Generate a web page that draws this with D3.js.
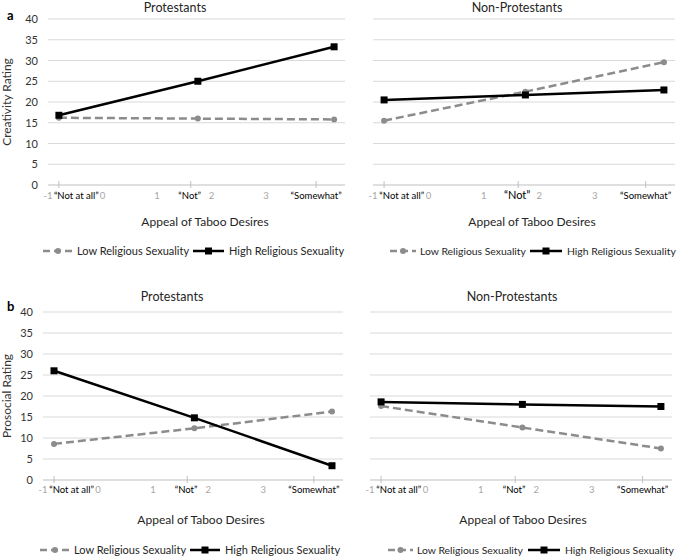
<!DOCTYPE html>
<html>
<head>
<meta charset="utf-8">
<script src="https://cdn.jsdelivr.net/npm/d3@7"></script>
<style>
  body { margin: 0; background: #fff; }
  text { font-family: Lato, "Open Sans", sans-serif; }
</style>
</head>
<body>
<div id="chart"></div>
<script>
// x positions (in axis units) of the three response levels
var levels = ["Not at all", "Not", "Somewhat"];
var pointX = [-0.8, 1.75, 4.25];
var tickX = [-0.8, 1.62, 3.92];
var wordLabels = ["\u201cNot at all\u201d", "\u201cNot\u201d", "\u201cSomewhat\u201d"];
var wordX = [-0.48, 1.6, 3.92];
var numTicks = [-1, 0, 1, 2, 3];
var yTicks = [0, 5, 10, 15, 20, 25, 30, 35, 40];

var panelTitles = ["Protestants", "Non-Protestants"];
var yTitles = ["Creativity Rating", "Prosocial Rating"];
var rowLetters = ["a", "b"];
var seriesNames = ["Low Religious Sexuality", "High Religious Sexuality"];

// values
var creatProtLow = [16.2, 16.0, 15.8];
var creatProtHigh = [16.8, 25.0, 33.3];
var creatNonLow = [15.5, 22.5, 29.6];
var creatNonHigh = [20.5, 21.7, 22.9];
var prosProtLow = [8.6, 12.3, 16.3];
var prosProtHigh = [26.0, 14.8, 3.4];
var prosNonLow = [17.6, 12.5, 7.5];
var prosNonHigh = [18.6, 18.0, 17.5];

var svg = d3.select("#chart")
  .append("svg")
  .attr("width", 685)
  .attr("height", 557);

// layout of the four panels
var panels = [
  { row: 0, col: 0, x0: 48, x1: 345, y0: 185, y1: 19, low: creatProtLow, high: creatProtHigh,
    titleX: 175, xTitleX: 205, legX: 43, legGap: [34, 150, 186], legFont: 11 },
  { row: 0, col: 1, x0: 373, x1: 675, y0: 185, y1: 19, low: creatNonLow, high: creatNonHigh,
    titleX: 517, xTitleX: 532, legX: 390, legGap: [30, 140, 177], legFont: 10.4 },
  { row: 1, col: 0, x0: 43, x1: 343, y0: 480, y1: 312, low: prosProtLow, high: prosProtHigh,
    titleX: 172, xTitleX: 201, legX: 40, legGap: [34, 150, 185], legFont: 11 },
  { row: 1, col: 1, x0: 370, x1: 672, y0: 480, y1: 312, low: prosNonLow, high: prosNonHigh,
    titleX: 512, xTitleX: 523, legX: 388, legGap: [29, 140, 177], legFont: 10.4 }
];
var rowText = [
  { title: 8, labels: 199, xTitle: 222, legend: 251, letter: 20 },
  { title: 297, labels: 493, xTitle: 520, legend: 550, letter: 311 }
];

var lowColor = "#8c8c8c", highColor = "#000";

panels.forEach(function (p) {
  var r = rowText[p.row];
  var x = d3.scaleLinear().domain([-1, 4.45]).range([p.x0, p.x1]);
  var y = d3.scaleLinear().domain([0, 40]).range([p.y0, p.y1]);
  var g = svg.append("g");

  // gridlines
  g.selectAll(".grid")
    .data(yTicks.filter(function (d) { return d > 0; }))
    .enter().append("line")
    .attr("x1", p.x0).attr("x2", p.x1)
    .attr("y1", function (d) { return y(d); })
    .attr("y2", function (d) { return y(d); })
    .attr("stroke", "#d9d9d9").attr("stroke-width", 1);

  // x axis line + ticks
  g.append("line")
    .attr("x1", p.x0).attr("x2", p.x1)
    .attr("y1", y(0)).attr("y2", y(0))
    .attr("stroke", "#bfbfbf");
  g.selectAll(".tk")
    .data(tickX)
    .enter().append("line")
    .attr("x1", function (d) { return x(d); })
    .attr("x2", function (d) { return x(d); })
    .attr("y1", y(0) - 4).attr("y2", y(0) + 3)
    .attr("stroke", "#bfbfbf");

  // y tick labels, left panels only
  if (p.col === 0) {
    g.selectAll(".yl")
      .data(yTicks)
      .enter().append("text")
      .attr("x", p.x0 - 10)
      .attr("y", function (d) { return y(d) + 4; })
      .attr("text-anchor", "end")
      .attr("font-size", 11)
      .attr("fill", "#333")
      .text(function (d) { return d; });

    g.append("text")
      .attr("transform", "translate(11," + ((p.y0 + p.y1) / 2) + ") rotate(-90)")
      .attr("text-anchor", "middle")
      .attr("font-size", 12)
      .attr("fill", "#333")
      .text(yTitles[p.row]);

    g.append("text")
      .attr("x", 7).attr("y", r.letter)
      .attr("font-family", "'Liberation Serif', serif")
      .attr("font-weight", "bold")
      .attr("font-size", 13)
      .text(rowLetters[p.row]);
  }

  // grey numeric labels and overlaid word labels
  g.selectAll(".nl")
    .data(numTicks)
    .enter().append("text")
    .attr("x", function (d) { return x(d); })
    .attr("y", r.labels)
    .attr("text-anchor", "middle")
    .attr("font-size", 9.5)
    .attr("fill", "#a6a6a6")
    .text(function (d) { return d; });
  g.selectAll(".wl")
    .data(wordLabels)
    .enter().append("text")
    .attr("x", function (d, i) { return x(wordX[i]); })
    .attr("y", r.labels)
    .attr("text-anchor", "middle")
    .attr("font-size", function (d, i) { return (p.row === 0 && p.col === 1 && i === 1) ? 11 : 9.5; })
    .attr("fill", "#000")
    .text(function (d) { return d; });

  // titles
  g.append("text")
    .attr("x", p.titleX).attr("y", r.title + 4)
    .attr("text-anchor", "middle")
    .attr("font-size", 12.5)
    .attr("fill", "#262626")
    .text(panelTitles[p.col]);
  g.append("text")
    .attr("x", p.xTitleX).attr("y", r.xTitle + 4)
    .attr("text-anchor", "middle")
    .attr("font-size", 12)
    .attr("fill", "#262626")
    .text("Appeal of Taboo Desires");

  // series
  var line = d3.line()
    .x(function (d, i) { return x(pointX[i]); })
    .y(function (d) { return y(d); });

  g.append("path")
    .datum(p.low)
    .attr("fill", "none")
    .attr("stroke", lowColor)
    .attr("stroke-width", 2.5)
    .attr("stroke-dasharray", "8, 4")
    .attr("d", line);
  g.selectAll(".lowpt")
    .data(p.low)
    .enter().append("circle")
    .attr("cx", function (d, i) { return x(pointX[i]); })
    .attr("cy", function (d) { return y(d); })
    .attr("r", 3)
    .attr("fill", lowColor);

  g.append("path")
    .datum(p.high)
    .attr("fill", "none")
    .attr("stroke", highColor)
    .attr("stroke-width", 2.5)
    .attr("d", line);
  g.selectAll(".highpt")
    .data(p.high)
    .enter().append("rect")
    .attr("x", function (d, i) { return x(pointX[i]) - 3.5; })
    .attr("y", function (d) { return y(d) - 3.5; })
    .attr("width", 7).attr("height", 7)
    .attr("fill", highColor);

  // legend
  var gap = p.legGap;
  var lg = g.append("g").attr("transform", "translate(" + p.legX + "," + r.legend + ")");
  lg.append("line")
    .attr("x1", 0).attr("x2", gap[0] - 4).attr("y1", 0).attr("y2", 0)
    .attr("stroke", lowColor).attr("stroke-width", 2.5)
    .attr("stroke-dasharray", "7, 4");
  lg.append("circle").attr("cx", (gap[0] - 4) / 2).attr("cy", 0).attr("r", 3).attr("fill", lowColor);
  lg.append("text")
    .attr("x", gap[0]).attr("y", 4)
    .attr("font-size", p.legFont)
    .attr("fill", "#262626")
    .text(seriesNames[0]);
  lg.append("line")
    .attr("x1", gap[1]).attr("x2", gap[2] - 5).attr("y1", 0).attr("y2", 0)
    .attr("stroke", highColor).attr("stroke-width", 2.5);
  lg.append("rect")
    .attr("x", (gap[1] + gap[2] - 5) / 2 - 3.5).attr("y", -3.5)
    .attr("width", 7).attr("height", 7).attr("fill", highColor);
  lg.append("text")
    .attr("x", gap[2]).attr("y", 4)
    .attr("font-size", p.legFont)
    .attr("fill", "#262626")
    .text(seriesNames[1]);
});
</script>
</body>
</html>
